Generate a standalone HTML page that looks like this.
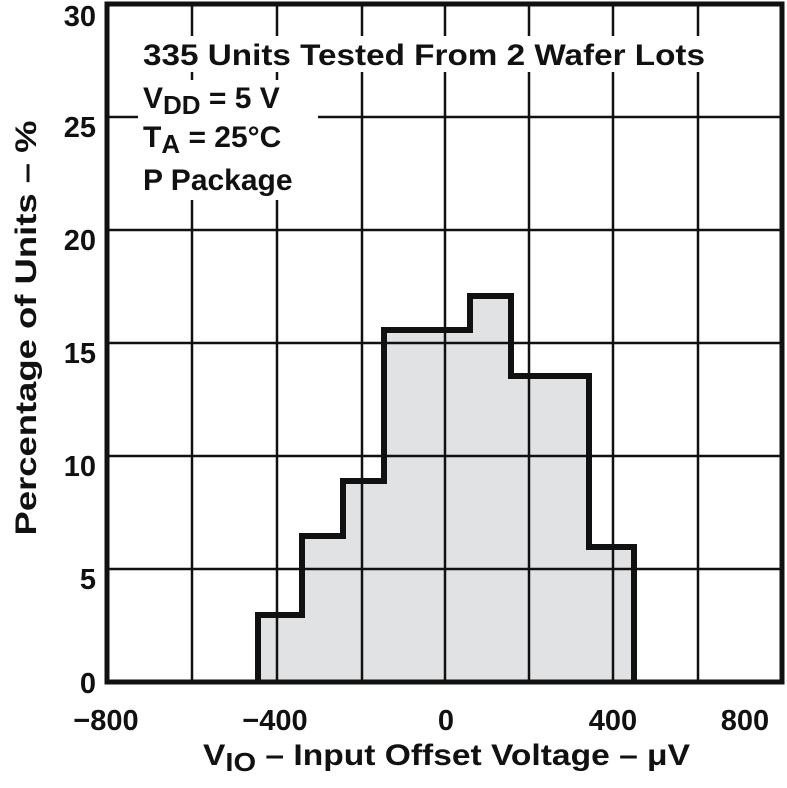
<!DOCTYPE html>
<html><head><style>body{margin:0;background:#fff}</style></head><body>
<svg width="787" height="783" viewBox="0 0 787 783" xmlns="http://www.w3.org/2000/svg" font-family="Liberation Sans, sans-serif" font-weight="bold">
<polygon points="258,682 258,615 302,615 302,536 343,536 343,481 384,481 384,330 470,330 470,296 511,296 511,376 589,376 589,547 634,547 634,682" fill="#e1e2e4"/>
<g stroke="#111" stroke-width="2.5">
<line x1="192" y1="4" x2="192" y2="682"/><line x1="277" y1="4" x2="277" y2="682"/><line x1="362" y1="4" x2="362" y2="682"/><line x1="445" y1="4" x2="445" y2="682"/><line x1="529" y1="4" x2="529" y2="682"/><line x1="613" y1="4" x2="613" y2="682"/><line x1="698" y1="4" x2="698" y2="682"/>
<line x1="107" y1="117" x2="782" y2="117"/><line x1="107" y1="230" x2="782" y2="230"/><line x1="107" y1="343" x2="782" y2="343"/><line x1="107" y1="456" x2="782" y2="456"/><line x1="107" y1="569" x2="782" y2="569"/>
</g>
<rect x="138" y="36" width="572" height="36" fill="#fff"/>
<rect x="138" y="80" width="180" height="120" fill="#fff"/>
<rect x="107" y="4" width="675" height="678" fill="none" stroke="#111" stroke-width="5"/>
<polyline points="258,682 258,615 302,615 302,536 343,536 343,481 384,481 384,330 470,330 470,296 511,296 511,376 589,376 589,547 634,547 634,682" fill="none" stroke="#111" stroke-width="6"/>
<g font-size="30" fill="#111">
<text x="143" y="65" textLength="562" lengthAdjust="spacingAndGlyphs">335 Units Tested From 2 Wafer Lots</text>
<text x="143" y="108">V<tspan font-size="26" dy="6">DD</tspan><tspan dy="-6"> = 5 V</tspan></text>
<text x="143" y="147">T<tspan font-size="26" dy="6">A</tspan><tspan dy="-6"> = 25°C</tspan></text>
<text x="143" y="190">P Package</text>
</g>
<g font-size="29" fill="#111" text-anchor="end">
<text x="96" y="26">30</text><text x="96" y="137">25</text><text x="96" y="250">20</text><text x="96" y="363">15</text><text x="96" y="476">10</text><text x="96" y="589">5</text><text x="96" y="693">0</text>
</g>
<g font-size="29" fill="#111" text-anchor="middle">
<text x="106" y="730">−800</text><text x="275" y="730">−400</text><text x="446" y="730">0</text><text x="613" y="730">400</text><text x="745" y="730">800</text>
</g>
<text x="203" y="765" font-size="30" fill="#111" textLength="487" lengthAdjust="spacingAndGlyphs">V<tspan font-size="26" dy="6">IO</tspan><tspan dy="-6"> – Input Offset Voltage – μV</tspan></text>
<text transform="translate(36,328) rotate(-90)" font-size="30" fill="#111" text-anchor="middle" textLength="415" lengthAdjust="spacingAndGlyphs">Percentage of Units – %</text>
</svg>
</body></html>
